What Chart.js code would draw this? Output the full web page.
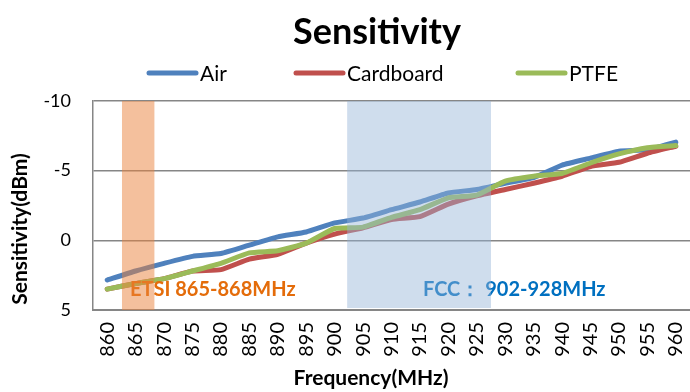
<!DOCTYPE html>
<html>
<head>
<meta charset="utf-8">
<script src="https://cdn.jsdelivr.net/npm/chart.js@4.4.1/dist/chart.umd.min.js"></script>
<style>
  html, body { margin: 0; padding: 0; background: #fff; }
  #wrap { width: 690px; height: 392px; position: relative; }
</style>
</head>
<body>
<div id="wrap"><canvas id="c" width="690" height="392"></canvas></div>
<script>
const categories = ['860','865','870','875','880','885','890','895','900','905','910','915','920','925','930','935','940','945','950','955','960'];
const airValues       = [2.85, 2.2, 1.65, 1.15, 0.95, 0.35, -0.25, -0.6, -1.25, -1.6, -2.2, -2.75, -3.4, -3.65, -4.1, -4.5, -5.4, -5.9, -6.4, -6.5, -7.05];
const cardboardValues = [3.5, 3.1, 2.75, 2.2, 2.1, 1.35, 1.0, 0.2, -0.45, -0.9, -1.5, -1.7, -2.6, -3.2, -3.65, -4.1, -4.6, -5.3, -5.6, -6.25, -6.75];
const ptfeValues      = [3.5, 3.1, 2.75, 2.2, 1.65, 0.9, 0.75, 0.2, -0.85, -0.95, -1.65, -2.2, -3.05, -3.25, -4.25, -4.6, -4.8, -5.55, -6.2, -6.65, -6.8];
const yTicks = [-10, -5, 0, 5];
const bandLabels = ['ETSI 865-868MHz', 'FCC\uFF1A 902-928MHz'];
const bandFrom = [862.6, 902.2];
const bandTo = [868.3, 927.5];
const chartTitle = 'Sensitivity';
const xTitle = 'Frequency(MHz)';
const yTitle = 'Sensitivity(dBm)';

const FONT = 'Lato, Carlito, Calibri, "Open Sans", sans-serif';
const bandFill = ['rgba(234,130,60,0.5)', 'rgba(149,179,215,0.45)'];
const bandText = ['#E46C0A', '#0070C0'];
const bandTextX = [130, 423];

const freqToIndex = f => (f - Number(categories[0])) / (Number(categories[1]) - Number(categories[0]));

const overlay = {
  id: 'overlay',
  afterDatasetsDraw(chart) {
    const {ctx, chartArea, scales} = chart;
    ctx.save();
    ctx.font = 'bold 20px ' + FONT;
    ctx.textBaseline = 'middle';
    ctx.textAlign = 'left';
    bandLabels.forEach((t, i) => {
      ctx.fillStyle = bandText[i];
      ctx.fillText(t, bandTextX[i], 290);
    });
    bandLabels.forEach((t, i) => {
      const x0 = scales.x.getPixelForValue(freqToIndex(bandFrom[i]));
      const x1 = scales.x.getPixelForValue(freqToIndex(bandTo[i]));
      ctx.fillStyle = bandFill[i];
      const bottom = i === 1 ? chartArea.bottom - 2 : chartArea.bottom;
      ctx.fillRect(x0, chartArea.top, x1 - x0, bottom - chartArea.top);
    });
    ctx.restore();
  },
  afterDraw(chart) {
    const {ctx} = chart;
    ctx.save();
    ctx.fillStyle = '#000';
    ctx.font = 'bold 36px ' + FONT;
    ctx.textAlign = 'center';
    ctx.textBaseline = 'alphabetic';
    ctx.fillText(chartTitle, 377, 44);
    // legend
    const legendX = [149, 296, 518];
    ctx.font = '21px ' + FONT;
    ctx.textAlign = 'left';
    ctx.textBaseline = 'middle';
    chart.data.datasets.forEach((ds, i) => {
      ctx.strokeStyle = ds.borderColor;
      ctx.lineWidth = 5;
      ctx.lineCap = 'round';
      ctx.beginPath();
      ctx.moveTo(legendX[i], 73);
      ctx.lineTo(legendX[i] + 47, 73);
      ctx.stroke();
      ctx.fillStyle = '#000';
      ctx.fillText(ds.label, legendX[i] + 51, 74);
    });
    // axis titles
    ctx.font = 'bold 21px ' + FONT;
    ctx.textAlign = 'center';
    ctx.fillText(xTitle, 371, 378);
    ctx.translate(20, 229);
    ctx.rotate(-Math.PI / 2);
    ctx.font = 'bold 21px ' + FONT;
    ctx.fillText(yTitle, 0, 0);
    ctx.restore();
  }
};

new Chart(document.getElementById('c'), {
  type: 'line',
  data: {
    labels: categories,
    datasets: [
      { label: 'Air', data: airValues, borderColor: '#4F81BD', order: 2 },
      { label: 'Cardboard', data: cardboardValues, borderColor: '#C0504D', order: 1 },
      { label: 'PTFE', data: ptfeValues, borderColor: '#9BBB59', order: 0 }
    ].map(d => Object.assign(d, { borderWidth: 5, pointRadius: 0, tension: 0.15, fill: false, borderCapStyle: 'round', borderJoinStyle: 'round' }))
  },
  options: {
    responsive: false,
    animation: false,
    layout: { padding: { top: 101, right: 0, left: 0, bottom: 0 } },
    plugins: { legend: { display: false }, title: { display: false }, tooltip: { enabled: false } },
    scales: {
      x: {
        offset: true,
        grid: { display: false, drawTicks: false },
        border: { display: true, color: '#868686', width: 2 },
        ticks: { color: '#000', font: { family: FONT, size: 20 }, maxRotation: 90, minRotation: 90, padding: 12, autoSkip: false },
        afterFit(s) { s.height = 82; s.paddingLeft = 0; s.paddingRight = 0; }
      },
      y: {
        reverse: true,
        min: -10, max: 5,
        afterBuildTicks(s) { s.ticks = yTicks.map(v => ({ value: v })); },
        grid: { color: '#868686', lineWidth: 1.5, drawTicks: false },
        border: { display: true, color: '#868686', width: 1.5 },
        ticks: { color: '#000', font: { family: FONT, size: 18 }, padding: 22 },
        afterFit(s) { s.width = 93; s.paddingTop = 0; s.paddingBottom = 0; }
      }
    }
  },
  plugins: [overlay]
});
</script>
</body>
</html>
